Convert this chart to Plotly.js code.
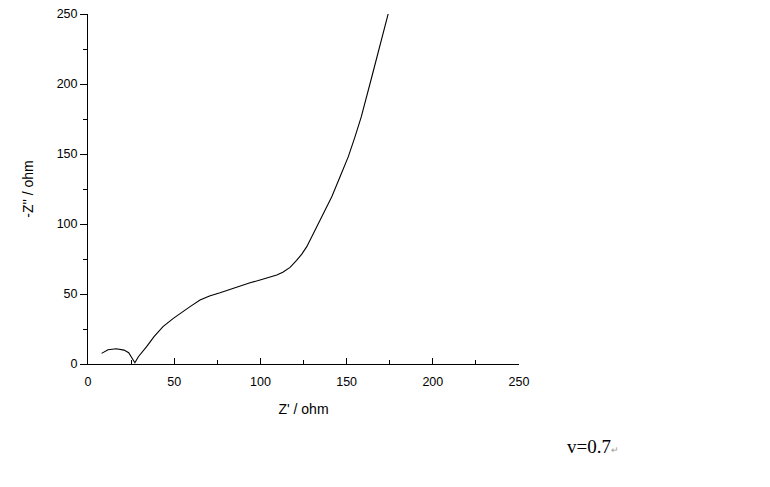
<!DOCTYPE html>
<html>
<head>
<meta charset="utf-8">
<script src="https://cdn.plot.ly/plotly-3.0.1.min.js"></script>
<style>
  html, body { margin: 0; padding: 0; background: #fff; }
  #chart { width: 770px; height: 487px; }
</style>
</head>
<body>
<div id="chart"></div>
<script>
// impedance curve (Z' and -Z'' in ohm)
const zReal = [7.9, 11.6, 16.4, 20.9, 23.6, 25.0, 26.2, 27.2, 29.2, 31.5, 34.0, 38.3,
  43.5, 49.5, 53.4, 59.2, 65.0, 70.5, 76.6, 82.5, 88.2, 94.0, 99.8, 105.0, 109.5,
  113.0, 117.2, 121.0, 124.0, 126.9, 131.7, 136.5, 141.4, 146.2, 151.0, 154.9,
  158.5, 164.6, 169.4, 174.2];
const zImag = [7.6, 10.2, 10.9, 9.9, 8.1, 5.5, 2.8, 0.9, 5.2, 8.4, 12.4, 19.5,
  26.7, 32.6, 36.2, 41.0, 45.7, 48.6, 50.9, 53.4, 55.7, 58.0, 60.0, 61.8, 63.6,
  65.6, 69.0, 74.0, 78.5, 83.8, 95.7, 107.6, 119.5, 133.8, 148.1, 162.4,
  176.5, 205.0, 227.5, 250.5];

const xTicks = [0, 50, 100, 150, 200, 250];
const yTicks = [0, 50, 100, 150, 200, 250];
const note = 'v=0.7';

const tickFont = { family: 'Liberation Sans, Arial, sans-serif', size: 12.5, color: '#000' };
const titleFont = { family: 'Liberation Sans, Arial, sans-serif', size: 14, color: '#000' };

Plotly.newPlot('chart', [{
  x: zReal,
  y: zImag,
  type: 'scatter',
  mode: 'lines',
  line: { color: '#000', width: 1.1 },
  hoverinfo: 'skip',
}], {
  width: 770,
  height: 487,
  margin: { l: 88, r: 251, t: 14, b: 123 },
  paper_bgcolor: '#fff',
  plot_bgcolor: '#fff',
  showlegend: false,
  xaxis: {
    range: [0, 250],
    tickvals: xTicks,
    ticks: 'inside',
    ticklen: 6,
    tickwidth: 1,
    tickcolor: '#000',
    ticklabelstandoff: 6,
    minor: { dtick: 25, ticks: 'inside', ticklen: 4, tickcolor: '#000', tickwidth: 1 },
    showline: true,
    linecolor: '#000',
    linewidth: 1,
    showgrid: false,
    zeroline: false,
    tickfont: tickFont,
    title: { text: "Z' / ohm", font: titleFont, standoff: 16 },
  },
  yaxis: {
    range: [0, 250],
    tickvals: yTicks,
    ticks: 'outside',
    ticklen: 7,
    tickwidth: 1,
    tickcolor: '#000',
    minor: { dtick: 25, ticks: 'outside', ticklen: 4, tickcolor: '#000', tickwidth: 1 },
    showline: true,
    linecolor: '#000',
    linewidth: 1,
    showgrid: false,
    zeroline: false,
    tickfont: tickFont,
    title: { text: "-Z'' / ohm", font: titleFont, standoff: 19 },
  },
  annotations: [{
    xref: 'paper', yref: 'paper',
    x: 1, y: 0,
    xshift: 46, yshift: -82,
    xanchor: 'left', yanchor: 'middle',
    showarrow: false,
    text: note + '<span style="font-size:9px;color:#999">↵</span>',
    font: { family: 'Liberation Serif, Times New Roman, serif', size: 19, color: '#000' },
  }],
}, { displayModeBar: false, staticPlot: true });
</script>
</body>
</html>
